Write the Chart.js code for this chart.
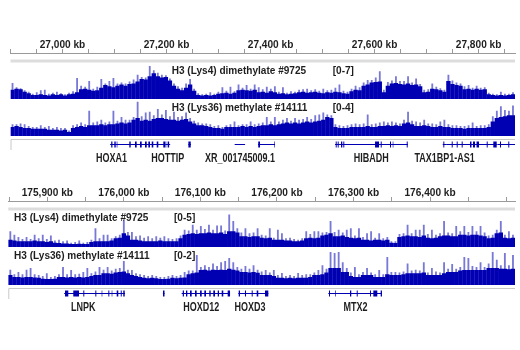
<!DOCTYPE html>
<html>
<head>
<meta charset="utf-8">
<script src="https://cdn.jsdelivr.net/npm/chart.js@4.4.1/dist/chart.umd.min.js"></script>
<style>
  html, body { margin: 0; padding: 0; background: #fff; }
  #wrap { position: relative; width: 520px; height: 350px; overflow: hidden; background: #fff; }
  #wrap canvas { position: absolute; left: 0; }
</style>
</head>
<body>
<div id="wrap">
  <canvas id="axis1" width="520" height="64" style="top:0px"></canvas>
  <canvas id="trackA1" width="520" height="36" style="top:63px"></canvas>
  <canvas id="trackB1" width="520" height="36" style="top:100px"></canvas>
  <canvas id="genes1" width="520" height="32" style="top:136px"></canvas>
  <canvas id="axis2" width="520" height="62" style="top:150px"></canvas>
  <canvas id="trackA2" width="520" height="36" style="top:211px"></canvas>
  <canvas id="trackB2" width="520" height="36" style="top:249px"></canvas>
  <canvas id="genes2" width="520" height="30" style="top:285px"></canvas>
</div>
<script>
// ---- view windows (kb) and axis labels ----
const view1 = [26900, 27870];            // chr7 region
const view2 = [175849, 176511];          // chr2 region
const tickStepKb = 50;
const tickLabels1 = [27000, 27200, 27400, 27600, 27800];
const tickLabels2 = [175900, 176000, 176100, 176200, 176300, 176400];

const trackNames = ['H3 (Lys4) dimethylate #9725', 'H3 (Lys36) methylate #14111'];
const dataRange1 = [7, 4];
const dataRange2 = [5, 2];

// ---- binned coverage, region 1 (mean and peak per bin) ----
const k4Mean1 = [1.8,2.0,1.9,1.4,1.1,0.8,0.8,0.9,0.8,0.7, 0.9,0.8,0.9,0.7,0.9,1.0,1.3,1.9,2.0,1.8,
  1.6,1.7,2.2,2.7,2.5,2.3,2.6,2.8,2.6,2.9, 3.0,3.4,3.9,3.8,4.4,5.0,4.4,4.2,4.3,3.6,
  2.6,2.0,1.7,2.2,2.8,1.6,0.8,0.7,0.8,0.7, 0.8,1.0,1.1,1.2,1.0,1.2,1.7,1.8,1.7,1.6,
  1.8,1.3,1.4,1.2,1.5,1.3,1.0,1.1,0.9,1.0, 1.1,1.3,1.4,1.2,1.3,1.4,1.2,1.1,1.3,1.2,
  1.4,1.3,1.1,1.0,1.5,1.8,1.7,2.6,2.8,3.2, 3.3,3.4,1.3,2.6,3.0,3.1,2.9,2.8,3.0,2.7,
  2.8,2.5,1.3,1.4,2.0,1.9,1.7,1.4,3.5,2.9, 2.7,2.6,1.9,2.0,1.8,2.0,1.8,1.9,0.9,0.8,
  0.7,0.8,0.7,0.8,0.9];
const k4Peak1 = [3.1,2.3,2.1,1.7,1.4,1.0,1.3,1.7,1.8,1.0, 1.2,1.4,1.1,0.9,1.2,1.5,4.1,2.6,2.4,3.5,
  2.0,2.4,3.9,3.0,3.5,4.1,3.0,3.2,3.0,3.4, 3.8,4.7,4.3,4.2,6.4,5.6,5.1,4.7,4.6,4.0,
  3.0,2.5,2.2,3.0,3.9,2.0,1.1,0.9,1.0,1.3, 1.0,1.4,2.3,1.6,2.4,1.5,2.8,2.2,2.7,2.0,
  2.8,2.3,1.9,2.4,2.0,2.5,1.4,2.3,1.2,1.5, 1.4,1.8,1.9,2.0,1.7,1.9,1.6,2.0,1.7,1.8,
  2.2,2.8,1.6,1.4,2.0,2.6,2.3,3.2,3.7,3.7, 4.2,5.4,1.8,3.3,3.6,4.4,3.5,3.5,4.4,3.2,
  4.0,2.9,1.8,1.9,3.0,2.4,2.1,1.8,4.7,3.6, 3.2,3.0,2.5,2.7,2.2,2.6,2.2,2.3,1.2,1.0,
  0.9,1.4,1.0,1.0,1.3];
const k36Mean1 = [1.0,1.1,1.0,0.9,0.9,0.8,0.8,0.8,0.8,0.7, 0.7,0.7,0.6,0.7,0.45,0.9,1.0,1.1,1.0,1.2,
  1.2,1.2,1.3,1.2,1.3,1.3,1.4,1.5,1.4,1.5, 1.8,2.0,1.7,1.8,1.7,1.9,2.0,2.0,1.9,1.8,
  1.8,1.7,1.8,1.9,1.6,1.4,1.2,1.2,1.1,1.0, 0.9,0.9,0.8,1.0,1.0,1.0,1.0,1.1,1.0,1.1,
  1.0,1.1,1.2,1.2,1.3,1.2,1.3,1.4,1.5,1.4, 1.5,1.4,1.5,1.6,1.5,1.6,1.7,1.8,2.1,2.0,
  1.0,0.9,0.9,0.9,1.0,1.0,1.0,1.0,1.1,1.0, 1.0,1.1,1.1,1.2,1.1,1.2,1.1,1.4,1.5,1.3,
  1.1,1.1,1.2,1.1,1.0,1.0,1.1,1.0,1.0,0.9, 0.9,0.9,0.8,0.9,0.9,0.9,0.9,0.9,1.0,1.6,
  2.0,2.1,2.2,2.3,2.3];
const k36Peak1 = [1.3,1.3,1.4,1.3,1.1,1.0,1.0,1.2,1.0,1.1, 0.9,1.0,0.9,0.9,0.6,1.2,1.3,1.5,1.3,2.8,
  1.5,1.6,1.8,1.5,1.6,2.8,1.7,2.1,1.8,1.8, 2.1,3.8,2.2,2.6,2.7,2.3,3.0,2.4,2.9,2.2,
  2.7,2.1,2.2,2.6,2.0,1.7,1.5,1.4,1.4,1.3, 1.1,1.2,1.0,1.2,1.3,1.6,1.2,1.3,1.3,1.6,
  1.3,1.4,1.5,2.1,1.6,2.1,1.6,1.8,2.0,1.7, 2.0,1.8,1.9,2.1,1.9,2.3,2.4,2.6,2.4,2.3,
  1.3,1.2,1.1,1.2,1.3,1.4,1.3,1.4,2.4,1.3, 1.4,1.5,1.6,1.5,1.6,1.5,1.4,1.8,2.7,1.7,
  1.6,1.5,1.8,1.4,1.4,1.3,1.6,1.8,1.3,1.2, 1.2,1.1,1.1,1.2,1.5,1.1,1.2,1.2,1.3,2.2,
  2.8,3.3,2.9,2.8,3.4];

// ---- binned coverage, region 2 ----
const k4Mean2 = [1.0,0.9,0.8,0.8,0.8,0.8,0.9,0.8,0.8,0.7, 0.8,0.6,0.55,0.5,0.5,0.4,0.4,0.45,0.4,0.4,
  0.7,0.8,0.8,0.8,0.8,0.9,1.2,1.3,1.9,1.6, 1.0,1.0,0.9,0.8,0.8,0.8,0.8,0.9,0.8,0.8,
  0.8,0.8,1.2,1.7,1.8,1.9,1.8,1.9,1.9,2.0, 1.9,1.9,2.0,1.8,2.2,2.2,2.0,1.5,1.5,1.4,
  1.5,1.5,1.3,1.2,1.3,1.0,1.0,1.0,0.9,0.9, 0.8,0.8,0.9,1.2,1.3,1.2,1.3,1.6,1.7,1.9,
  1.5,1.5,1.6,1.4,1.3,1.2,1.3,1.0,1.0,0.9, 1.0,1.0,0.9,1.0,0.6,0.55,1.4,1.5,1.6,1.5,
  1.5,1.4,1.6,1.3,1.2,1.3,1.5,1.6,1.6,1.5, 1.5,1.7,1.7,1.6,1.7,1.7,1.6,1.5,1.2,1.3,
  1.9,2.0,1.3,1.2,1.3];
const k4Peak2 = [2.2,1.7,1.4,1.1,1.4,1.1,1.7,1.2,1.7,1.1, 1.6,0.9,1.0,0.8,0.9,0.6,0.7,0.9,0.6,0.7,
  1.0,2.6,1.2,1.7,1.7,1.2,1.5,1.7,3.7,2.1, 2.1,1.5,1.6,1.3,1.5,1.2,1.5,1.3,1.5,1.2,
  1.1,1.2,1.6,2.4,2.3,3.1,2.4,2.9,2.5,3.1, 2.4,3.0,3.0,2.3,4.5,3.6,2.6,2.0,2.6,1.9,
  2.0,2.6,1.7,1.6,2.6,1.3,2.4,1.9,1.2,1.3, 1.1,1.0,1.2,2.2,1.8,2.2,2.2,2.0,2.1,3.6,
  2.1,2.4,2.0,2.4,2.6,1.6,2.6,1.4,1.9,2.2, 1.3,1.9,1.2,1.4,0.8,0.8,1.8,1.9,3.1,1.9,
  2.4,2.4,3.1,1.8,2.4,1.7,1.9,3.6,2.0,1.9, 2.9,2.2,2.9,2.1,2.9,2.2,2.9,2.0,1.6,1.7,
  2.4,3.6,1.7,2.2,1.7];
const k36Mean2 = [0.55,0.45,0.45,0.42,0.45,0.45,0.42,0.4,0.35,0.33, 0.33,0.35,0.45,0.45,0.42,0.45,0.42,0.45,0.42,0.45,
  0.5,0.55,0.55,0.65,0.65,0.62,0.7,0.72,0.75,0.65, 0.55,0.5,0.45,0.4,0.38,0.4,0.38,0.33,0.33,0.35,
  0.4,0.38,0.4,0.42,0.6,0.65,0.7,0.83,0.85,0.8, 0.85,0.83,0.85,0.83,0.9,0.85,0.8,0.72,0.72,0.7,
  0.72,0.68,0.55,0.55,0.55,0.5,0.4,0.4,0.38,0.4, 0.38,0.4,0.4,0.4,0.45,0.55,0.55,0.6,0.7,0.95,
  0.95,0.95,0.72,0.72,0.5,0.45,0.45,0.55,0.55,0.55, 0.45,0.45,0.45,0.6,0.55,0.55,0.55,0.6,0.65,0.65,
  0.65,0.65,0.7,0.55,0.55,0.55,0.55,0.65,0.72,0.72, 0.72,0.8,0.83,0.83,0.83,0.83,0.83,0.83,0.95,0.95,
  0.95,0.9,0.9,0.88,0.9];
const k36Peak2 = [0.85,0.6,0.72,0.6,0.85,0.95,0.6,0.55,0.5,0.65, 0.45,0.5,0.6,1.0,0.6,0.83,0.6,0.62,0.72,0.95,
  0.65,0.75,1.0,0.85,1.0,0.8,0.9,0.95,1.33,0.85, 0.83,0.65,0.6,0.55,0.5,0.55,0.5,0.45,0.45,0.5,
  0.55,0.5,0.55,0.72,0.8,0.8,1.67,1.0,1.1,1.0, 1.2,1.05,1.27,1.33,1.5,1.27,1.0,0.9,1.05,0.9,
  1.1,0.85,0.75,0.83,0.7,0.83,0.55,0.67,0.5,0.55, 0.5,0.67,0.55,0.6,0.6,0.7,0.83,1.1,0.9,1.83,
  1.78,1.83,1.27,0.95,0.7,1.0,0.6,0.72,0.95,0.7, 0.6,0.83,0.6,1.55,0.72,0.72,0.7,0.75,1.2,0.8,
  0.85,0.8,1.27,0.7,0.95,0.75,0.7,1.27,0.9,1.17, 0.9,1.0,1.55,1.5,1.05,1.0,1.27,1.0,1.2,1.83,
  1.4,1.1,1.78,1.1,1.67];

// ---- gene models (kb): [start, end, exons] ----
const geneModels1 = [
  [27091.5, 27099, [[27091.5, 27093], [27093.6, 27096]]],
  [27099, 27197.5, [[27099.6, 27102.3], [27104.2, 27105.5], [27120.2, 27121.5], [27128.4, 27131.1],
    [27139.4, 27142.6], [27149, 27152.3], [27158.6, 27161.9], [27165, 27168.2], [27171.5, 27174.6],
    [27181.1, 27184.2], [27193.8, 27197.1]]],
  [27197.5, 27207, [[27198, 27199.5], [27202.2, 27205]]],
  [27242, 27247, [[27242, 27246.5]]],
  [27331, 27351, []],
  [27376, 27408.6, [[27376.3, 27379.7], [27407.4, 27408.6]]],
  [27524, 27664, [[27525.3, 27527.2], [27529.1, 27531], [27535.5, 27538], [27539.9, 27541.8],
    [27583.6, 27584.9], [27600.9, 27608.6], [27611.8, 27613.7], [27629.7, 27631.6],
    [27634.9, 27636.1], [27648.9, 27650.8], [27661.8, 27663.7]]],
  [27731, 27739, [[27732.2, 27734.1]]],
  [27739, 27835, [[27748.3, 27750.2], [27757.9, 27759.8], [27767.5, 27769.4], [27783.5, 27786.4],
    [27789.3, 27793.1], [27796, 27800.8], [27815.6, 27817.5], [27828.3, 27834.8]]],
  [27836, 27870, [[27841.2, 27843.1], [27857.1, 27859]]]
];
const geneModels2 = [
  [175922, 176001.5, [[175923.1, 175927.4], [175933.9, 175941.4], [175947, 175948.3], [175954.8, 175955.7],
    [175962.7, 175964], [175967.5, 175968.8], [175971, 175971.8], [175979.7, 175981], [175984.1, 175984.9],
    [175990.6, 175992.7], [175995.9, 175997.2], [175999.2, 176001.1]]],
  [176051, 176053.1, [[176051.1, 176053.1]]],
  [176075.5, 176138.7, [[176076.9, 176078.5], [176081.2, 176082.9], [176086.4, 176088.6], [176092.9, 176095.1],
    [176099.5, 176101.7], [176105.1, 176107.3], [176111.6, 176113.4], [176116.8, 176119.1],
    [176122.6, 176124.3], [176127.8, 176129.9], [176135.6, 176138.7]]],
  [176149.5, 176188.7, [[176150, 176151.7], [176158.2, 176159.6], [176167, 176168.3], [176173.5, 176175.6],
    [176184.4, 176188.7]]],
  [176267.1, 176337.2, [[176268, 176269.3], [176275.8, 176276.7], [176295.4, 176297.1], [176304.2, 176305.5],
    [176308.5, 176309.4], [176321.6, 176322.9], [176325.9, 176331.1], [176335.5, 176337.2]]]
];
const geneLabels1 = ['HOXA1', 'HOTTIP', 'XR_001745009.1', 'HIBADH', 'TAX1BP1-AS1'];
const geneLabelAt1 = [27094, 27202.5, 27341.3, 27593.7, 27734.8];
const geneLabels2 = ['LNPK', 'HOXD12', 'HOXD3', 'MTX2'];
const geneLabelAt2 = [175947, 176101.2, 176164.8, 176302.6];

// ---- styling ----
const DARK = 'rgb(0,0,178)';
const LIGHT = 'rgb(120,120,214)';
const TEXT = '#1e1e1e';
const FAMILY = "'Liberation Sans', Arial, Helvetica, sans-serif";
// condensed bold lettering: font plus a horizontal squeeze
const TICK_TEXT = { font: 'bold 11.5px ' + FAMILY, sx: 0.88 };
const TRACK_TEXT = { font: 'bold 11px ' + FAMILY, sx: 0.915 };
const GENE_TEXT = { font: 'bold 12px ' + FAMILY, sx: 0.75 };

function drawCondensed(ctx, text, x, y, style, align) {
  ctx.save();
  ctx.font = style.font;
  ctx.fillStyle = TEXT;
  ctx.textAlign = align || 'left';
  ctx.textBaseline = 'middle';
  ctx.translate(x, y);
  ctx.scale(style.sx, 1);
  ctx.fillText(text, 0, 0);
  ctx.restore();
}

function overlay(spec) {
  return {
    id: 'overlay',
    afterDraw(chart) {
      const ctx = chart.ctx, xs = chart.scales.x, area = chart.chartArea;
      ctx.save();
      (spec.rects || []).forEach(r => { ctx.fillStyle = r.color; ctx.fillRect(r.x, r.y, r.w, r.h); });
      if (spec.frame) {
        ctx.strokeStyle = spec.frame;
        ctx.lineWidth = 1;
        ctx.beginPath();
        ctx.moveTo(area.left + 0.5, area.bottom);
        ctx.lineTo(area.left + 0.5, area.top + 0.5);
        ctx.lineTo(area.right, area.top + 0.5);
        ctx.stroke();
      }
      (spec.texts || []).forEach(t => {
        const x = (t.kb !== undefined) ? xs.getPixelForValue(t.kb) : t.x;
        drawCondensed(ctx, t.text, x, t.y, t.style, t.align);
      });
      ctx.restore();
    }
  };
}

const base = {
  responsive: false, animation: false, events: [],
  devicePixelRatio: 1
};
const noPlugins = { legend: { display: false }, tooltip: { enabled: false } };

function axisChart(id, view, labels, pad, axisY, bandY) {
  const labelY = axisY - 4 - 3.8;
  return new Chart(document.getElementById(id), {
    type: 'scatter',
    data: { datasets: [] },
    options: Object.assign({}, base, {
      layout: { padding: { left: pad[0], right: pad[1], top: 0, bottom: 0 } },
      plugins: noPlugins,
      scales: {
        x: {
          type: 'linear', position: 'top', min: view[0], max: view[1],
          afterFit: s => { s.height = axisY; },
          afterBuildTicks: s => {
            const t = [];
            for (let v = Math.ceil(view[0] / tickStepKb) * tickStepKb; v <= view[1]; v += tickStepKb) t.push({ value: v });
            s.ticks = t;
          },
          ticks: { display: false, autoSkip: false, maxRotation: 0 },
          grid: { drawOnChartArea: false, drawTicks: true, tickLength: 4, color: '#9a9a9a', lineWidth: 1 },
          border: { display: true, color: '#9a9a9a', width: 1 }
        },
        y: { display: false, min: 0, max: 1 }
      }
    }),
    plugins: [overlay({
      rects: [{ x: pad[0], y: bandY, w: 520 - pad[0] - pad[1], h: 3, color: '#dddddd' }],
      texts: labels.map(v => ({ text: v.toLocaleString('en-US') + ' kb', kb: v, y: labelY, style: TICK_TEXT, align: 'center' }))
    })]
  });
}

function trackChart(id, view, yMax, mean, peak, pad, texts) {
  const bin = (view[1] - view[0]) / mean.length;
  const pts = arr => arr.map((v, i) => ({ x: view[0] + (i + 0.5) * bin, y: v }));
  return new Chart(document.getElementById(id), {
    type: 'bar',
    data: {
      datasets: [
        { data: pts(mean), backgroundColor: DARK, borderWidth: 0, grouped: false, categoryPercentage: 1, barPercentage: 1.08, order: 0 },
        { data: pts(peak), backgroundColor: LIGHT, borderWidth: 0, grouped: false, categoryPercentage: 1, barPercentage: 0.45, order: 1 }
      ]
    },
    options: Object.assign({}, base, {
      layout: { padding: { left: pad[0], right: pad[1], top: 0, bottom: 0 } },
      plugins: noPlugins,
      scales: {
        x: { type: 'linear', display: false, offset: false, min: view[0], max: view[1] },
        y: { display: false, min: 0, max: yMax }
      }
    }),
    plugins: [overlay({ texts })]
  });
}

function geneChart(id, view, models, names, at, pad, labelY) {
  const introns = [], exons = [];
  models.forEach(([s, e, ex]) => {
    introns.push({ x: s, y: 0 }, { x: e, y: 0 }, { x: e, y: null });
    ex.forEach(([a, b]) => exons.push({ x: a, y: 0 }, { x: b, y: 0 }, { x: b, y: null }));
  });
  const line = { showLine: true, pointRadius: 0, borderColor: DARK, spanGaps: false, borderCapStyle: 'butt' };
  return new Chart(document.getElementById(id), {
    type: 'scatter',
    data: {
      datasets: [
        Object.assign({ data: exons, borderWidth: 6 }, line),
        Object.assign({ data: introns, borderWidth: 1 }, line)
      ]
    },
    options: Object.assign({}, base, {
      layout: { padding: { left: pad[0], right: pad[1], top: pad[2], bottom: pad[3] } },
      plugins: noPlugins,
      scales: {
        x: { type: 'linear', display: false, min: view[0], max: view[1] },
        y: { display: false, min: -1, max: 1 }
      }
    }),
    plugins: [overlay({
      frame: '#c8c8c8',
      texts: names.map((n, i) => ({ text: n, kb: at[i], y: labelY, style: GENE_TEXT, align: 'center' }))
    })]
  });
}

// ---- region 1 ----
const pad1 = [10.5, 5];
axisChart('axis1', view1, tickLabels1, pad1, 53, 59.5);
trackChart('trackA1', view1, dataRange1[0], k4Mean1, k4Peak1, pad1, [
  { text: trackNames[0], x: 171.7, y: 7.7, style: TRACK_TEXT },
  { text: '[0-' + dataRange1[0] + ']', x: 332.7, y: 7.7, style: TRACK_TEXT }
]);
trackChart('trackB1', view1, dataRange1[1], k36Mean1, k36Peak1, pad1, [
  { text: trackNames[1], x: 171.7, y: 8.3, style: TRACK_TEXT },
  { text: '[0-' + dataRange1[1] + ']', x: 332.7, y: 8.3, style: TRACK_TEXT }
]);
geneChart('genes1', view1, geneModels1, geneLabels1, geneLabelAt1, [10.5, 5, 3, 18], 22.3);

// ---- region 2 ----
const pad2 = [8.3, 5];
axisChart('axis2', view2, tickLabels2, pad2, 51, 57.5);
trackChart('trackA2', view2, dataRange2[0], k4Mean2, k4Peak2, pad2, [
  { text: trackNames[0], x: 14, y: 7.3, style: TRACK_TEXT },
  { text: '[0-' + dataRange2[0] + ']', x: 174, y: 7.3, style: TRACK_TEXT }
]);
trackChart('trackB2', view2, dataRange2[1], k36Mean2, k36Peak2, pad2, [
  { text: trackNames[1], x: 14, y: 7, style: TRACK_TEXT },
  { text: '[0-' + dataRange2[1] + ']', x: 174, y: 7, style: TRACK_TEXT }
]);
geneChart('genes2', view2, geneModels2, geneLabels2, geneLabelAt2, [8.3, 5, 3, 16], 22.7);
</script>
</body>
</html>
